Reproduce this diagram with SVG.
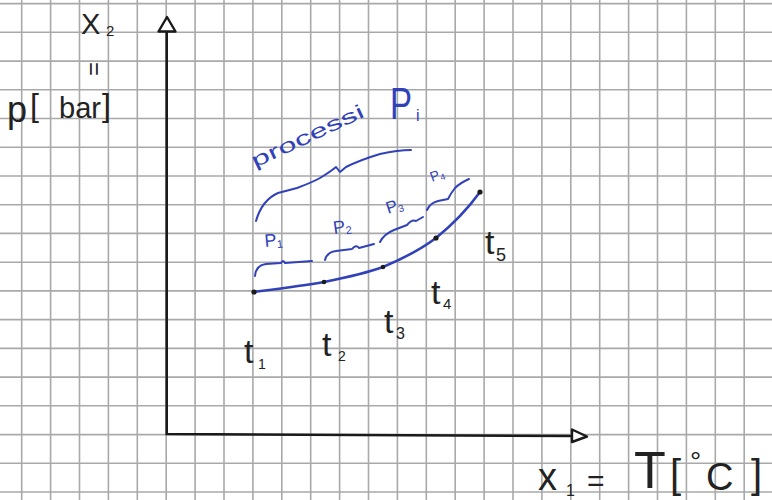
<svg xmlns="http://www.w3.org/2000/svg" width="772" height="500" viewBox="0 0 772 500">
<defs>
<style>
.grid line{stroke:#a9a9a9;stroke-width:1.6}
.axis{stroke:#1a1a1a;stroke-width:2.6;fill:none;stroke-linecap:round}
.head{stroke:#1a1a1a;stroke-width:2.4;fill:#fff;stroke-linejoin:round}
.blue{stroke:#3142b8;stroke-width:2;fill:none;stroke-linecap:round;stroke-linejoin:round}
.curve{stroke:#3142b8;stroke-width:2.6;fill:none;stroke-linecap:round}
.dot{fill:#1a1a1a}
.k{font-family:"Liberation Sans","DejaVu Sans",sans-serif;fill:#222}
.b{font-family:"Liberation Sans","DejaVu Sans",sans-serif;fill:#3142b8}
</style>
</defs>
<rect width="772" height="500" fill="#fff"/>
<g class="grid">
<line x1="21.7" y1="0" x2="21.7" y2="500"/><line x1="50.6" y1="0" x2="50.6" y2="500"/><line x1="79.5" y1="0" x2="79.5" y2="500"/><line x1="108.4" y1="0" x2="108.4" y2="500"/><line x1="137.3" y1="0" x2="137.3" y2="500"/><line x1="166.2" y1="0" x2="166.2" y2="500"/><line x1="195.1" y1="0" x2="195.1" y2="500"/><line x1="224" y1="0" x2="224" y2="500"/><line x1="252.9" y1="0" x2="252.9" y2="500"/><line x1="281.8" y1="0" x2="281.8" y2="500"/><line x1="310.7" y1="0" x2="310.7" y2="500"/><line x1="339.6" y1="0" x2="339.6" y2="500"/><line x1="368.5" y1="0" x2="368.5" y2="500"/><line x1="397.4" y1="0" x2="397.4" y2="500"/><line x1="426.3" y1="0" x2="426.3" y2="500"/><line x1="455.2" y1="0" x2="455.2" y2="500"/><line x1="484.1" y1="0" x2="484.1" y2="500"/><line x1="513" y1="0" x2="513" y2="500"/><line x1="541.9" y1="0" x2="541.9" y2="500"/><line x1="570.8" y1="0" x2="570.8" y2="500"/><line x1="599.7" y1="0" x2="599.7" y2="500"/><line x1="628.6" y1="0" x2="628.6" y2="500"/><line x1="657.5" y1="0" x2="657.5" y2="500"/><line x1="686.4" y1="0" x2="686.4" y2="500"/><line x1="715.3" y1="0" x2="715.3" y2="500"/><line x1="744.2" y1="0" x2="744.2" y2="500"/>
<line x1="0" y1="3.6" x2="772" y2="3.6"/><line x1="0" y1="32.3" x2="772" y2="32.3"/><line x1="0" y1="61.1" x2="772" y2="61.1"/><line x1="0" y1="89.8" x2="772" y2="89.8"/><line x1="0" y1="118.5" x2="772" y2="118.5"/><line x1="0" y1="147.3" x2="772" y2="147.3"/><line x1="0" y1="176" x2="772" y2="176"/><line x1="0" y1="204.7" x2="772" y2="204.7"/><line x1="0" y1="233.4" x2="772" y2="233.4"/><line x1="0" y1="262.2" x2="772" y2="262.2"/><line x1="0" y1="290.9" x2="772" y2="290.9"/><line x1="0" y1="319.6" x2="772" y2="319.6"/><line x1="0" y1="348.4" x2="772" y2="348.4"/><line x1="0" y1="377.1" x2="772" y2="377.1"/><line x1="0" y1="405.8" x2="772" y2="405.8"/><line x1="0" y1="434.6" x2="772" y2="434.6"/><line x1="0" y1="463.3" x2="772" y2="463.3"/><line x1="0" y1="492" x2="772" y2="492"/>
</g>
<g id="connectors">
<path class="axis" d="M166.7,31 L166.7,434 L572,436"/>
<polygon class="head" points="167,17 158.5,31.5 175.5,31.5"/>
<polygon class="head" points="572,429.5 587,436.5 572,442"/>
</g>
<g id="y-label">
<text class="k" x="81" y="34" font-size="29">X</text>
<text class="k" x="106" y="36" font-size="15">2</text>
<text class="k" transform="translate(94,69) rotate(90)" text-anchor="middle" dominant-baseline="central" font-size="24">=</text>
<text class="k" x="7" y="122" font-size="36">p</text>
<text class="k" x="30" y="116" font-size="32">[</text>
<text class="k" x="59" y="118" font-size="30" textLength="42" lengthAdjust="spacingAndGlyphs">bar</text>
<text class="k" x="102" y="116" font-size="32">]</text>
</g>
<g id="x-label">
<text class="k" x="538" y="490" font-size="38">x</text>
<text class="k" x="566" y="496" font-size="16">1</text>
<text class="k" x="587" y="491" font-size="30">=</text>
<text class="k" x="634" y="488" font-size="52">T</text>
<text class="k" x="670" y="488" font-size="40">[</text>
<text class="k" x="690" y="471" font-size="28">°</text>
<text class="k" x="706" y="490" font-size="38">C</text>
<text class="k" x="751" y="488" font-size="40">]</text>
</g>
<g id="process-curve">
<path class="curve" d="M254,292 C277,289 301,286 324,282 C344,278 364,274 383,267 C402,259 420,250 436,238 C452,225 467,210 480,192"/>
<circle class="dot" cx="254" cy="292" r="2.6"/>
<circle class="dot" cx="324" cy="282" r="2.3"/>
<circle class="dot" cx="383" cy="267" r="2.3"/>
<circle class="dot" cx="436" cy="238" r="2.6"/>
<circle class="dot" cx="480" cy="192" r="2.6"/>
</g>
<g id="t-labels">
<text class="k" x="244" y="363" font-size="34">t</text><text class="k" x="258" y="369" font-size="14">1</text>
<text class="k" x="322" y="356" font-size="34">t</text><text class="k" x="338" y="361" font-size="14">2</text>
<text class="k" x="384" y="333" font-size="34">t</text><text class="k" x="396" y="339" font-size="16">3</text>
<text class="k" x="431" y="304" font-size="34">t</text><text class="k" x="443" y="309" font-size="15">4</text>
<text class="k" x="485" y="254" font-size="34">t</text><text class="k" x="496" y="261" font-size="18">5</text>
</g>
<g id="sub-processes">
<path class="blue" d="M255,276 Q256,265 266,264 L281,263 Q283,259 285,263 L312,261"/>
<path class="blue" d="M325,260 Q327,252 336,251 L352,249 Q356,244 359,248 L374,244"/>
<path class="blue" d="M380,242 Q384,234 394,230 L407,225 Q412,219 416,221 L423,217"/>
<path class="blue" d="M427,210 Q430,203 438,201 L448,199 Q451,193 455,188 Q460,183 469,179"/>
<text class="b" transform="translate(265,247) rotate(-5)" font-size="18">P<tspan font-size="11" dy="2">1</tspan></text>
<text class="b" transform="translate(334,234) rotate(-8)" font-size="18">P<tspan font-size="11" dy="2">2</tspan></text>
<text class="b" transform="translate(388,214) rotate(-18)" font-size="17">P<tspan font-size="10" dy="2">3</tspan></text>
<text class="b" transform="translate(432,182) rotate(-20)" font-size="14">P<tspan font-size="9" dy="2">4</tspan></text>
</g>
<g id="processes">
<path class="blue" d="M256,221 Q262,200 278,193 L297,188 Q313,182 320,178 Q330,172 336,167 L340,172 L346,167 Q360,160 380,154 Q398,150 411,150"/>
<text class="b" transform="translate(255,168) rotate(-25)" font-size="20" textLength="122" lengthAdjust="spacingAndGlyphs">processi</text>
<text class="b" transform="translate(390,119) scale(0.75,1)" font-size="44">P</text>
<text class="b" x="416" y="121" font-size="16">i</text>
</g>
</svg>
